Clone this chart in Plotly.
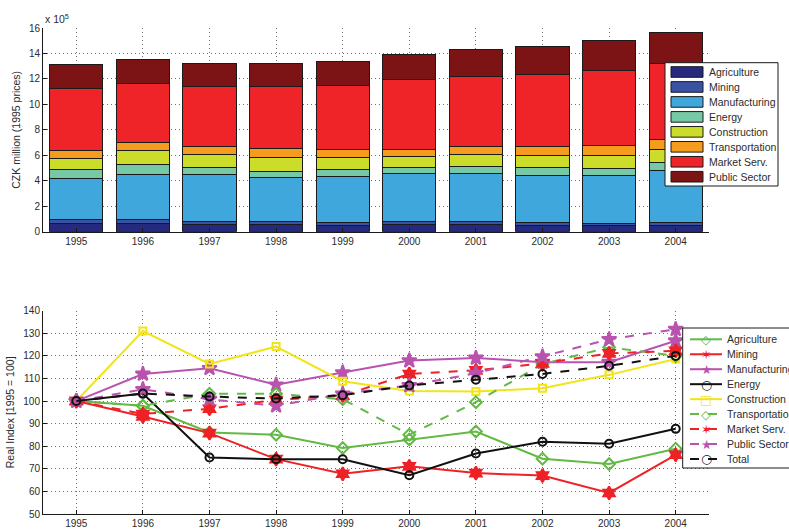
import plotly.graph_objects as go

years = [1995, 1996, 1997, 1998, 1999, 2000, 2001, 2002, 2003, 2004]
sectors = ["Agriculture", "Mining", "Manufacturing", "Energy",
           "Construction", "Transportation", "Market Serv.", "Public Sector"]

# Gross value added by sector, in units of 10^5 CZK million (1995 prices)
va_agriculture = [0.66, 0.65, 0.57, 0.56, 0.52, 0.55, 0.57, 0.49, 0.48, 0.52]
va_mining = [0.31, 0.29, 0.27, 0.23, 0.21, 0.22, 0.21, 0.21, 0.18, 0.24]
va_manufacturing = [3.20, 3.58, 3.66, 3.43, 3.60, 3.77, 3.81, 3.75, 3.75, 4.05]
va_energy = [0.71, 0.73, 0.53, 0.53, 0.53, 0.48, 0.55, 0.58, 0.58, 0.62]
va_construction = [0.87, 1.14, 1.01, 1.08, 0.95, 0.91, 0.91, 0.92, 0.97, 1.03]
va_transportation = [0.65, 0.64, 0.67, 0.67, 0.66, 0.55, 0.65, 0.76, 0.80, 0.78]
va_market_serv = [4.86, 4.58, 4.69, 4.88, 4.98, 5.44, 5.52, 5.67, 5.89, 5.94]
va_public_sector = [1.84, 1.93, 1.85, 1.80, 1.90, 1.97, 2.07, 2.20, 2.34, 2.43]

# Real index, 1995 = 100
ix_agriculture = [100, 97.9, 86.1, 85.1, 79.2, 83.0, 86.5, 74.5, 72.1, 78.9]
ix_mining = [100, 93.2, 85.8, 74.3, 67.8, 71.1, 68.1, 67.0, 59.3, 76.2]
ix_manufacturing = [100, 112.0, 114.5, 107.2, 112.6, 117.9, 119.1, 117.2, 117.2, 126.7]
ix_energy = [100, 103.3, 75.0, 74.2, 74.2, 67.2, 76.8, 82.0, 81.1, 87.7]
ix_construction = [100, 131.0, 116.4, 124.1, 108.8, 104.5, 104.2, 105.7, 111.6, 118.6]
ix_transportation = [100, 97.9, 103.2, 103.2, 100.8, 85.1, 99.5, 116.4, 123.8, 120.0]
ix_market_serv = [100, 94.3, 96.6, 100.5, 102.4, 112.0, 113.6, 116.7, 121.1, 122.2]
ix_public_sector = [100, 105.2, 100.8, 97.9, 103.2, 106.9, 112.3, 119.7, 127.3, 131.8]
ix_total = [100, 103.3, 102.0, 101.1, 102.6, 106.9, 109.4, 112.0, 115.6, 120.0]

bar_values = [va_agriculture, va_mining, va_manufacturing, va_energy,
              va_construction, va_transportation, va_market_serv, va_public_sector]
bar_colors = ["#262A7E", "#3853A4", "#40A7DC", "#77C9A6",
              "#CCDC2B", "#F59C1F", "#EE2428", "#7C1416"]

GREEN = "#62BA45"
RED = "#EE2226"
MAGENTA = "#B853AE"
BLACK = "#111111"
YELLOW = "#F1E41A"

# name, values, colour, dash, marker symbol, marker size, legend glyph
line_series = [
    ("Agriculture", ix_agriculture, GREEN, "solid", "diamond-open", 9, "\u25C7"),
    ("Mining", ix_mining, RED, "solid", "hexagram", 10, "\u2736"),
    ("Manufacturing", ix_manufacturing, MAGENTA, "solid", "star", 11, "\u2605"),
    ("Energy", ix_energy, BLACK, "solid", "circle-open", 8, "\u25CB"),
    ("Construction", ix_construction, YELLOW, "solid", "square-open", 7, "\u25A1"),
    ("Transportation", ix_transportation, GREEN, "dash", "diamond-open", 9, "\u25C7"),
    ("Market Serv.", ix_market_serv, RED, "dash", "hexagram", 10, "\u2736"),
    ("Public Sector", ix_public_sector, MAGENTA, "dash", "star", 11, "\u2605"),
    ("Total", ix_total, BLACK, "dash", "circle-open", 8, "\u25CB"),
]

fig = go.Figure()

for name, vals, col in zip(sectors, bar_values, bar_colors):
    fig.add_trace(go.Bar(
        x=years, y=vals, name=name, width=0.8, showlegend=False,
        marker=dict(color=col, line=dict(color="#1a1a1a", width=1)),
        xaxis="x", yaxis="y",
    ))

for name, vals, col, dash, sym, msize, _ in line_series:
    fig.add_trace(go.Scatter(
        x=years, y=vals, name=name, mode="lines+markers", showlegend=False,
        line=dict(color=col, width=2, dash=dash),
        marker=dict(symbol=sym, size=msize, color=col,
                    line=dict(color=col, width=2)),
        xaxis="x2", yaxis="y2",
    ))

FONT = dict(family="Liberation Sans, Arial, sans-serif", size=10.5, color="#2b2b2b")
TICKFONT = dict(family="Liberation Sans, Arial, sans-serif", size=10, color="#2b2b2b")

axis_common = dict(
    showgrid=True, gridcolor="#6e6e6e", griddash="1px,3px", gridwidth=1,
    showline=True, linecolor="#1a1a1a", linewidth=1,
    ticks="inside", ticklen=4, tickcolor="#1a1a1a",
    zeroline=False, tickfont=TICKFONT,
)

# plot-area geometry in pixels, used to place the hand-built legends
W, H = 789, 529
ML, MR, MT, MB = 43, 80, 28, 15
PW, PH = W - ML - MR, H - MT - MB


def px(xp):
    return (xp - ML) / PW


def py(yp):
    return (H - MB - yp) / PH


shapes = []
annotations = [dict(text="x 10<sup>5</sup>", xref="paper", yref="paper",
                    x=0, y=py(19), xanchor="left", yanchor="middle",
                    showarrow=False, font=FONT)]

# legend for the stacked bars
shapes.append(dict(type="rect", xref="paper", yref="paper",
                   x0=px(665), x1=px(778), y0=py(62.7), y1=py(186),
                   fillcolor="white", line=dict(color="#1a1a1a", width=1)))
for i, (name, col) in enumerate(zip(sectors, bar_colors)):
    cy = 72 + i * 14.96
    shapes.append(dict(type="rect", xref="paper", yref="paper",
                       x0=px(671), x1=px(703), y0=py(cy + 5.3), y1=py(cy - 5.3),
                       fillcolor=col, line=dict(color="#1a1a1a", width=1)))
    annotations.append(dict(text=name, xref="paper", yref="paper",
                            x=px(707), y=py(cy), xanchor="left", yanchor="middle",
                            showarrow=False, font=FONT))

# legend for the index lines
shapes.append(dict(type="rect", xref="paper", yref="paper",
                   x0=px(682.7), x1=px(800), y0=py(328), y1=py(468),
                   fillcolor="white", line=dict(color="#1a1a1a", width=1)))
for i, (name, _, col, dash, _, _, glyph) in enumerate(line_series):
    cy = 339.3 + i * 14.96
    shapes.append(dict(type="line", xref="paper", yref="paper",
                       x0=px(690), x1=px(722), y0=py(cy), y1=py(cy),
                       line=dict(color=col, width=2, dash=dash)))
    annotations.append(dict(text=glyph, xref="paper", yref="paper",
                            x=px(706), y=py(cy), xanchor="center", yanchor="middle",
                            showarrow=False,
                            font=dict(family="DejaVu Sans", size=12.5, color=col)))
    annotations.append(dict(text=name, xref="paper", yref="paper",
                            x=px(725), y=py(cy), xanchor="left", yanchor="middle",
                            showarrow=False, font=FONT))

fig.update_layout(
    width=W, height=H,
    margin=dict(l=ML, r=MR, t=MT, b=MB, autoexpand=False),
    paper_bgcolor="white", plot_bgcolor="white",
    barmode="stack",
    font=FONT,
    showlegend=False,
    xaxis=dict(domain=[0, 1], anchor="y", range=[1994.5, 2004.5],
               tickvals=years, **axis_common),
    yaxis=dict(domain=[py(231.7), 1], anchor="x", range=[0, 16], dtick=2,
               title=dict(text="CZK million (1995 prices)", font=FONT, standoff=6),
               **axis_common),
    xaxis2=dict(domain=[0, 1], anchor="y2", range=[1994.5, 2004.5],
                tickvals=years, **axis_common),
    yaxis2=dict(domain=[0, py(310.7)], anchor="x2", range=[50, 140], dtick=10,
                title=dict(text="Real Index [1995 = 100]", font=FONT, standoff=6),
                **axis_common),
    shapes=shapes,
    annotations=annotations,
)

fig.write_html("out.html")
